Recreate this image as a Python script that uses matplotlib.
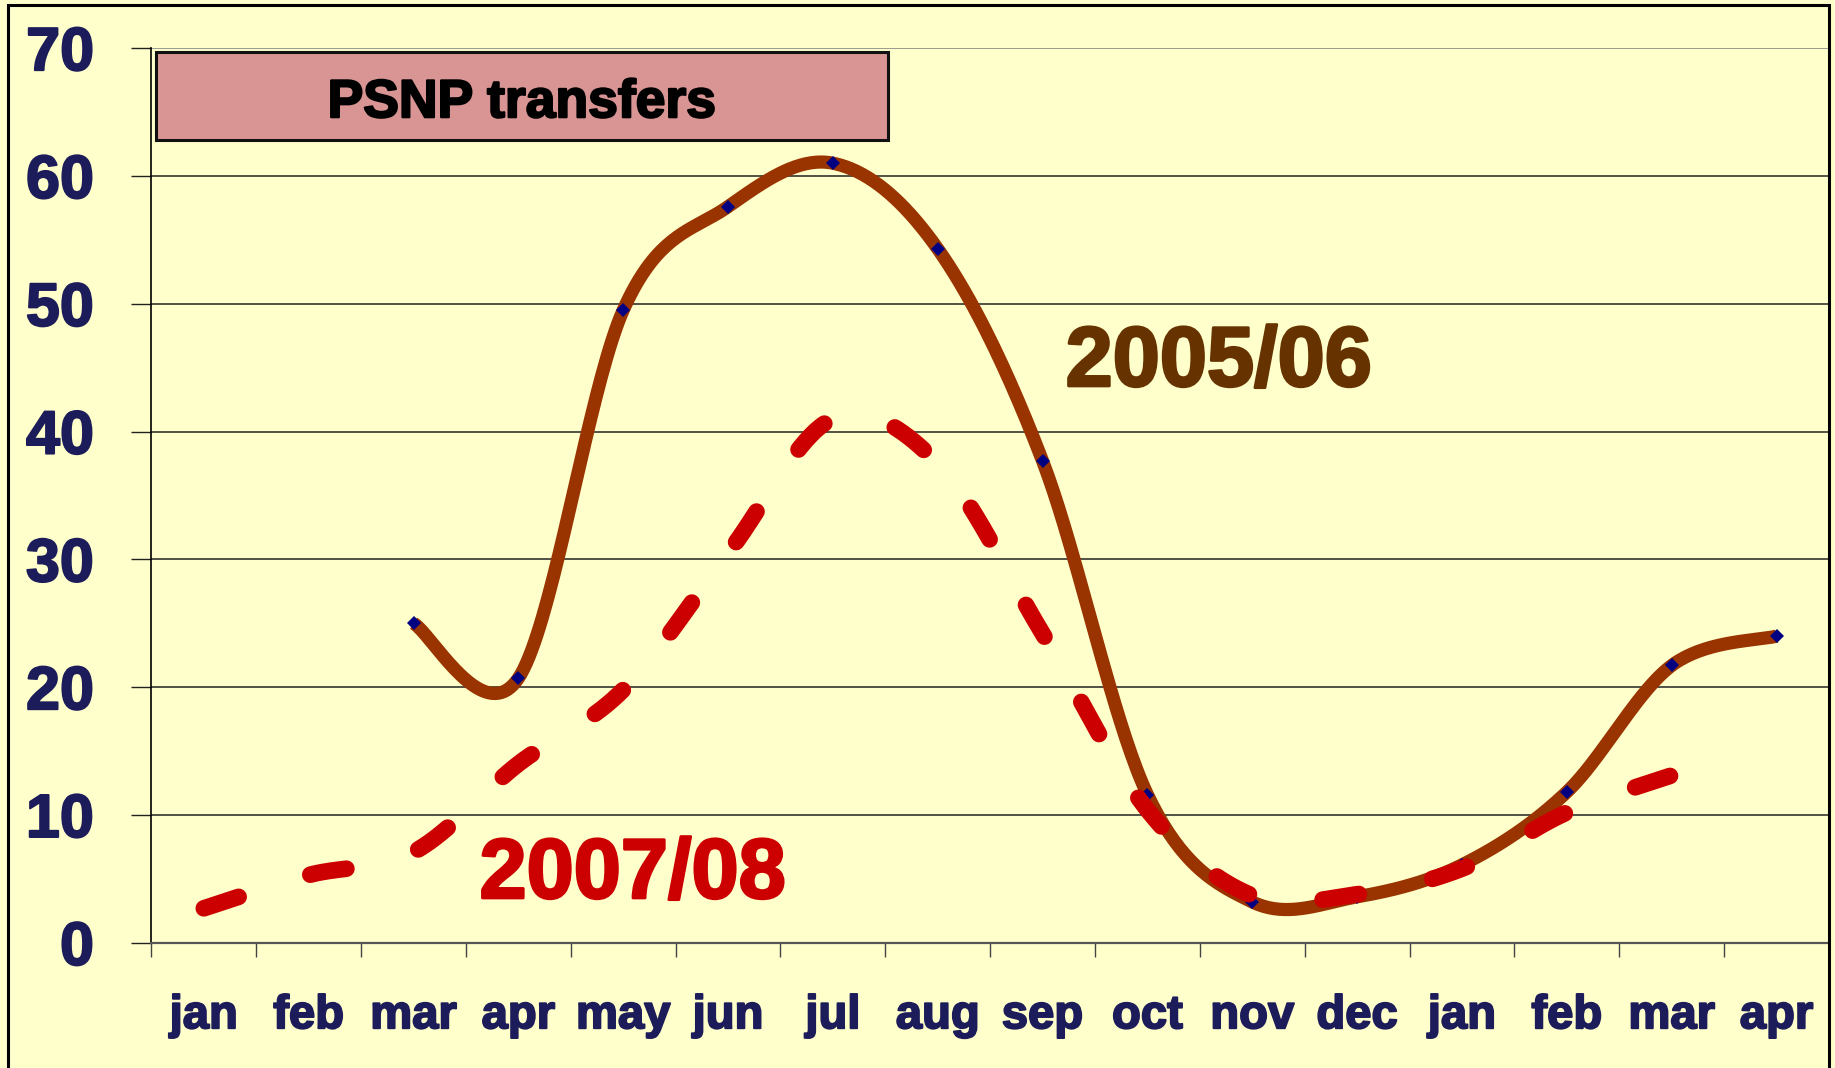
import numpy as np
import matplotlib
matplotlib.use("Agg")
import matplotlib.pyplot as plt
import matplotlib.patheffects as pe
from matplotlib.patches import Rectangle

months = ['jan', 'feb', 'mar', 'apr', 'may', 'jun', 'jul', 'aug',
          'sep', 'oct', 'nov', 'dec', 'jan', 'feb', 'mar', 'apr']
y0506 = [np.nan, np.nan, 25, 20.7, 49.5, 57.6, 61, 54.3,
         37.7, 11.6, 3.2, 3.6, 6.1, 11.8, 21.7, 24]
y0708 = [2.7, 5.3, 7.1, 14, 19.8, 30.5, 41, 37.5,
         24.2, 10.4, 3.7, 3.8, 5.8, 10.2, 13.1, np.nan]
yticks = [0, 10, 20, 30, 40, 50, 60, 70]

bg = '#FFFFCC'
navy = '#1C1C5A'


def smooth(x, y, n=40):
    # excel-like smoothed line (catmull-rom bezier)
    x = np.asarray(x, float)
    y = np.asarray(y, float)
    ok = ~np.isnan(y)
    x, y = x[ok], y[ok]
    m = len(x)
    sx, sy = [], []
    t = np.linspace(0, 1, n)
    for i in range(m - 1):
        a = max(i - 1, 0)
        d = min(i + 2, m - 1)
        p0 = np.array([x[i], y[i]])
        p3 = np.array([x[i+1], y[i+1]])
        p1 = p0 + (p3 - np.array([x[a], y[a]])) / 6
        p2 = p3 - (np.array([x[d], y[d]]) - p0) / 6
        b = ((1-t)**3)[:, None]*p0 + (3*(1-t)**2*t)[:, None]*p1 \
            + (3*(1-t)*t**2)[:, None]*p2 + (t**3)[:, None]*p3
        sx.extend(b[:, 0])
        sy.extend(b[:, 1])
    return sx, sy


def heavy(c, w=1.6):
    return [pe.withStroke(linewidth=w, foreground=c)]


plt.rcParams['font.family'] = ['Liberation Sans', 'DejaVu Sans']
plt.rcParams['font.weight'] = 'bold'

fig = plt.figure(figsize=(18.35, 10.68), dpi=100, facecolor=bg)
ax = fig.add_axes([0.0825, 0.1172, 0.9142, 0.8377])
ax.set_facecolor(bg)

x = np.arange(len(months))

for v in yticks[1:]:
    ax.axhline(v, color='#808080' if v == 70 else '#222222', lw=1.1, zorder=1)

sx, sy = smooth(x, y0708)
ax.plot(sx, sy, color='#CC0000', lw=12, linestyle=(0, (2.2, 4.5)),
        dash_capstyle='round', zorder=3)

sx, sy = smooth(x, y0506)
ax.plot(sx, sy, color='#993300', lw=9.5, solid_capstyle='butt', zorder=2)
ax.plot(x, y0506, linestyle='none', marker='D', markersize=7.5,
        color='#000080', markeredgewidth=0, zorder=2.5)

ax.set_xlim(-0.5, len(months) - 0.5)
ax.set_ylim(0, 70)

ax.set_xticks(x)
ax.set_xticklabels(months, fontsize=34, color=navy, fontweight='bold')
ax.set_xticks(np.arange(-0.5, len(months)), minor=True)
ax.tick_params(axis='x', which='major', length=0, pad=37)
ax.tick_params(axis='x', which='minor', length=10, width=1, color='#444444')
ax.set_yticks(yticks)
ax.set_yticklabels([str(v) for v in yticks], fontsize=44, color=navy,
                   fontweight='bold')
ax.tick_params(axis='y', length=14.4, width=1, color='#222222', pad=27)
for lbl in ax.get_xticklabels() + ax.get_yticklabels():
    lbl.set_path_effects(heavy(navy, 1.4))

for s in ['top', 'right']:
    ax.spines[s].set_visible(False)
ax.spines['left'].set_linewidth(1.2)
ax.spines['bottom'].set_color('#555555')
ax.spines['bottom'].set_linewidth(1.6)

ax.add_patch(Rectangle((0.0025, 0.8974), 0.4365, 0.0984, transform=ax.transAxes,
                       facecolor='#D99594', edgecolor='#111111', lw=2.2,
                       zorder=4, clip_on=False))
ax.text(0.2209, 0.9385, 'PSNP transfers', transform=ax.transAxes,
        ha='center', va='center', fontsize=38.5, fontweight='bold',
        color='black', zorder=5, path_effects=heavy('black', 1.6))

ax.text(9.68, 43.57, '2005/06', ha='center', va='baseline', fontsize=61,
        fontweight='bold', color='#663300', zorder=5,
        path_effects=heavy('#663300', 2))
ax.text(4.09, 3.51, '2007/08', ha='center', va='baseline', fontsize=61,
        fontweight='bold', color='#CC0000', zorder=5,
        path_effects=heavy('#CC0000', 2))

fig.add_artist(Rectangle((0.0044, -0.02), 0.9924, 1.0153, transform=fig.transFigure,
                         facecolor='none', edgecolor='black', lw=2.2))

fig.savefig('out.png', dpi=100, facecolor=bg)
